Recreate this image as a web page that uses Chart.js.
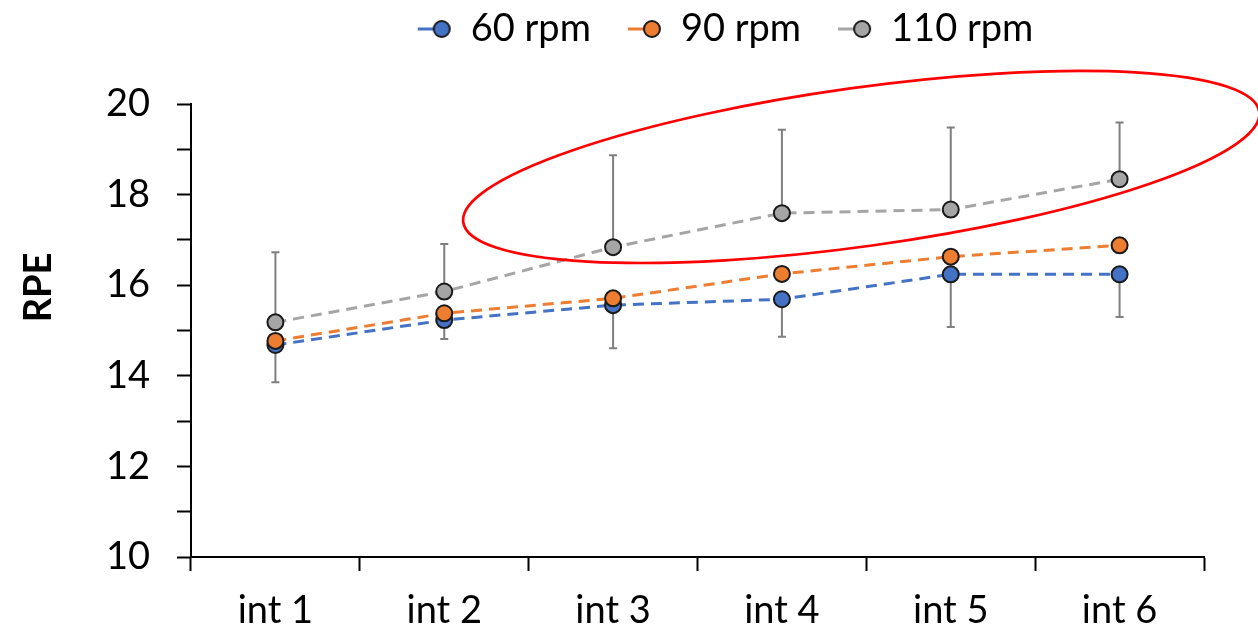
<!DOCTYPE html>
<html>
<head>
<meta charset="utf-8">
<title>RPE by cadence</title>
<script src="https://cdn.jsdelivr.net/npm/chart.js@4.4.1/dist/chart.umd.min.js"></script>
<style>
    html, body { margin: 0; padding: 0; background: #fff; }
    #wrap { width: 1258px; height: 630px; position: relative; }
</style>
</head>
<body>
<div id="wrap"><canvas id="rpeChart"></canvas></div>
<script>
// chart data
const intervals = ['int 1', 'int 2', 'int 3', 'int 4', 'int 5', 'int 6'];
const seriesNames = ['60 rpm', '90 rpm', '110 rpm'];
const rpe60 = [14.68, 15.23, 15.56, 15.69, 16.24, 16.24];
const rpe90 = [14.77, 15.38, 15.71, 16.25, 16.63, 16.88];
const rpe110 = [15.18, 15.86, 16.84, 17.59, 17.67, 18.34];
const sd60 = [0.82, 0.42, 0.95, 0.83, 1.16, 0.94];   // drawn downward
const sd110 = [1.55, 1.05, 2.03, 1.84, 1.81, 1.25];  // drawn upward
const yTicks = [10, 12, 14, 16, 18, 20];

// red highlight ellipse, in data units (category index / RPE)
const highlight = { x: 3.47, y: 18.61, rx: 2.38, ry: 1.75, tilt: -7.9 };

const colors = ['#4472C4', '#ED7D31', '#A5A5A5'];
const FONT = 'Lato, "Open Sans", sans-serif';

// little "-o" legend markers
function makeMarker(color) {
    const c = document.createElement('canvas');
    c.width = 61;
    c.height = 22;
    const g = c.getContext('2d');
    g.strokeStyle = color;
    g.lineWidth = 3;
    g.beginPath();
    g.moveTo(27, 11);
    g.lineTo(50, 11);
    g.stroke();
    g.beginPath();
    g.arc(51, 11, 8, 0, Math.PI * 2);
    g.fillStyle = color;
    g.fill();
    g.lineWidth = 2;
    g.strokeStyle = '#1a1a1a';
    g.stroke();
    return c;
}
const markers = colors.map(makeMarker);

// error bars under the points
const errorBars = {
    id: 'errorBars',
    beforeDatasetsDraw(chart) {
        const ctx = chart.ctx;
        const x = chart.scales.x, y = chart.scales.y;
        ctx.save();
        ctx.strokeStyle = '#7F7F7F';
        ctx.lineWidth = 2;
        const bar = (i, from, to) => {
            const px = x.getPixelForValue(i);
            const y0 = y.getPixelForValue(from), y1 = y.getPixelForValue(to);
            ctx.beginPath();
            ctx.moveTo(px, y0);
            ctx.lineTo(px, y1);
            ctx.moveTo(px - 4, y1);
            ctx.lineTo(px + 4, y1);
            ctx.stroke();
        };
        intervals.forEach((_, i) => {
            bar(i, rpe110[i], rpe110[i] + sd110[i]);
            bar(i, rpe60[i], rpe60[i] - sd60[i]);
        });
        ctx.restore();
    }
};

// y title + red ellipse on top
const extras = {
    id: 'extras',
    beforeInit(chart) {
        const fit = chart.legend.fit;
        chart.legend.fit = function () {
            fit.call(this);
            this.height += 46;
        };
    },
    afterLayout(chart) {
        // legend sits right of centre in the original
        chart.legend.left += 110;
        chart.legend.right += 110;
    },
    afterDraw(chart) {
        const ctx = chart.ctx;
        const x = chart.scales.x, y = chart.scales.y;
        const area = chart.chartArea;

        ctx.save();
        ctx.translate(39, area.top + (area.bottom - area.top) * 0.405);
        ctx.rotate(-Math.PI / 2);
        ctx.font = 'bold 38px ' + FONT;
        ctx.fillStyle = '#000';
        ctx.textAlign = 'center';
        ctx.textBaseline = 'middle';
        ctx.fillText('RPE', 0, 0);
        ctx.restore();

        const cx = x.getPixelForValue(highlight.x);
        const cy = y.getPixelForValue(highlight.y);
        const a = highlight.rx * (x.getPixelForValue(1) - x.getPixelForValue(0));
        const b = highlight.ry * (y.getPixelForValue(0) - y.getPixelForValue(1));
        ctx.save();
        ctx.strokeStyle = '#FF0000';
        ctx.lineWidth = 2.7;
        ctx.beginPath();
        ctx.ellipse(cx, cy, a, b, highlight.tilt * Math.PI / 180, 0, Math.PI * 2);
        ctx.stroke();
        ctx.restore();
    }
};

function lineSet(label, data, color, order) {
    return {
        label: label,
        data: data,
        borderColor: color,
        backgroundColor: color,
        borderWidth: 3,
        borderDash: [11, 7],
        pointRadius: 8,
        pointHoverRadius: 8,
        pointBorderWidth: 2,
        pointBorderColor: '#1a1a1a',
        pointBackgroundColor: color,
        tension: 0,
        fill: false,
        order: order
    };
}

Chart.defaults.font.family = FONT;
Chart.defaults.color = '#000';

new Chart(document.getElementById('rpeChart'), {
    type: 'line',
    data: {
        labels: intervals,
        datasets: [
            lineSet(seriesNames[0], rpe60, colors[0], 3),
            lineSet(seriesNames[1], rpe90, colors[1], 2),
            lineSet(seriesNames[2], rpe110, colors[2], 1)
        ]
    },
    options: {
        responsive: true,
        maintainAspectRatio: false,
        animation: false,
        layout: { padding: { left: 0, right: 54, top: 0, bottom: 0 } },
        plugins: {
            tooltip: { enabled: false },
            legend: {
                position: 'top',
                labels: {
                    usePointStyle: true,
                    pointStyleWidth: 61,
                    boxHeight: 22,
                    padding: 10,
                    font: { size: 38 },
                    color: '#000',
                    sort: (a, b) => a.datasetIndex - b.datasetIndex,
                    generateLabels(chart) {
                        const items = Chart.defaults.plugins.legend.labels.generateLabels(chart);
                        items.forEach((it) => { it.pointStyle = markers[it.datasetIndex]; });
                        return items;
                    }
                }
            }
        },
        scales: {
            x: {
                offset: true,
                grid: {
                    offset: true,
                    drawOnChartArea: false,
                    drawTicks: true,
                    tickLength: 14,
                    tickWidth: 2,
                    tickColor: '#000'
                },
                border: { color: '#000', width: 2 },
                ticks: { padding: 21, font: { size: 38, lineHeight: 1 }, color: '#000' },
                afterFit(scale) { scale.height = 73; }
            },
            y: {
                min: 10,
                max: 20,
                grid: {
                    drawOnChartArea: false,
                    drawTicks: true,
                    tickLength: 14,
                    tickWidth: 2,
                    tickColor: '#000'
                },
                border: { color: '#000', width: 2 },
                ticks: {
                    stepSize: 1,
                    autoSkip: false,
                    padding: 27,
                    font: { size: 38, lineHeight: 1 },
                    color: '#000',
                    callback: (v) => yTicks.includes(v) ? String(v) : ''
                },
                afterFit(scale) { scale.width = 191; }
            }
        }
    },
    plugins: [errorBars, extras]
});
</script>
</body>
</html>
